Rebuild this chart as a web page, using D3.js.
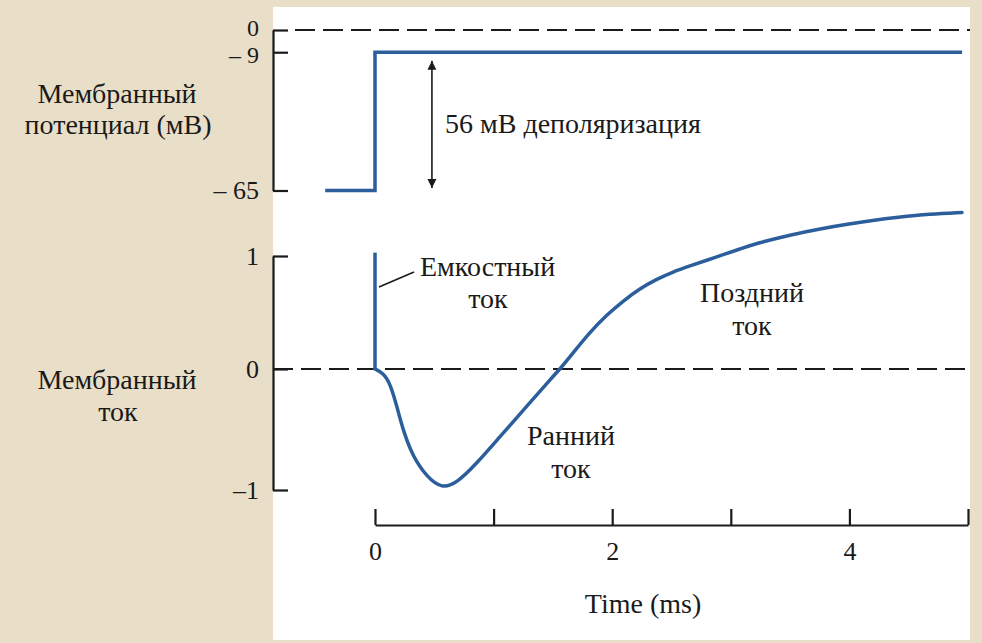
<!DOCTYPE html>
<html>
<head>
<meta charset="utf-8">
<script src="https://cdn.jsdelivr.net/npm/d3@7"></script>
<style>
  body { margin: 0; background: #e9dfc9; }
  svg text { font-family: "Liberation Serif", "Times New Roman", Tinos, "DejaVu Serif", "Noto Serif", serif !important; fill: #1a1a1a; }
</style>
</head>
<body>
<div id="chart"></div>
<script>
// Data
var vTime = [-0.42, 0, 0, 4.95];
var vValues = [-65, -65, -9, -9];
var vTicks = [-65, -9, 0];
var vTickLabels = ["\u2013 65", "\u2013 9", "0"];

var spikeTime = [0, 0];
var spikeValues = [0, 1.03];

var iTime = [0, 0.068, 0.127, 0.186, 0.236, 0.320, 0.438, 0.565, 0.691, 0.860, 1.029, 1.282, 1.492, 1.560,
  1.670, 1.813, 1.956, 2.091, 2.234, 2.378, 2.513, 2.656, 2.799, 2.934, 3.078, 3.221, 3.499, 3.777,
  3.980, 4.199, 4.401, 4.680, 4.949];
var iValues = [0, -0.033, -0.116, -0.314, -0.504, -0.727, -0.893, -0.99, -0.942, -0.777, -0.587, -0.306, -0.070, 0,
  0.142, 0.327, 0.481, 0.601, 0.712, 0.796, 0.860, 0.912, 0.963, 1.011, 1.062, 1.113, 1.187, 1.245,
  1.281, 1.316, 1.342, 1.372, 1.386];
var iTicks = [-1, 0, 1];
var iTickLabels = ["\u20131", "0", "1"];

var timeTicks = [0, 1, 2, 3, 4, 5];
var timeTickLabels = ["0", "", "2", "", "4", ""];

// Chart Params
var svgWidth = 982;
var svgHeight = 643;
var blue = "#2c5e9c";
var fontSize = 28;
var tickFont = 26;

var svg = d3.select("#chart")
  .append("svg")
  .attr("width", svgWidth)
  .attr("height", svgHeight);

svg.append("rect")
  .attr("width", svgWidth).attr("height", svgHeight)
  .attr("fill", "#e9dfc9");

svg.append("rect")
  .attr("x", 273).attr("y", 7)
  .attr("width", 697).attr("height", 633)
  .attr("fill", "#ffffff");

// Scales
var x = d3.scaleLinear().domain([0, 5]).range([375, 968]);
var yV = d3.scaleLinear().domain([-65, 0]).range([190.5, 30]);
var yI = d3.scaleLinear().domain([-1, 0, 1]).range([490, 369, 256]);

var axisX = 273;

// Left axes
var leftV = d3.axisLeft(yV)
  .tickValues(vTicks)
  .tickSizeInner(-15)
  .tickSizeOuter(0)
  .tickPadding(14)
  .tickFormat((d, i) => vTickLabels[i]);

var leftI = d3.axisLeft(yI)
  .tickValues(iTicks)
  .tickSizeInner(-15)
  .tickSizeOuter(0)
  .tickPadding(14)
  .tickFormat((d, i) => iTickLabels[i]);

var bottomAxis = d3.axisBottom(x)
  .tickValues(timeTicks)
  .tickSizeInner(-16)
  .tickSizeOuter(0)
  .tickPadding(17)
  .tickFormat((d, i) => timeTickLabels[i]);

function styleAxis(g) {
  g.attr("font-family", null);
  g.select(".domain").attr("stroke", "#1a1a1a").attr("stroke-width", 2.2);
  g.selectAll(".tick line").attr("stroke", "#1a1a1a").attr("stroke-width", 2.2);
  g.selectAll(".tick text")
    .attr("font-size", tickFont)
    .attr("fill", "#1a1a1a");
}

var gV = svg.append("g")
  .attr("transform", `translate(${axisX}, 0)`)
  .call(leftV)
  .call(styleAxis);

// the top two labels sit very close together, as in the original
gV.selectAll(".tick text")
  .attr("font-size", (d) => d === -65 ? tickFont : 24)
  .attr("y", (d) => d === 0 ? -2 : (d === -9 ? 3 : 0));

svg.append("g")
  .attr("transform", `translate(${axisX}, 0)`)
  .call(leftI)
  .call(styleAxis);

svg.append("g")
  .attr("transform", "translate(0, 525)")
  .call(bottomAxis)
  .call(styleAxis);

// Dashed zero lines
svg.append("line")
  .attr("x1", axisX + 22).attr("x2", 970)
  .attr("y1", yV(0)).attr("y2", yV(0))
  .attr("stroke", "#1a1a1a").attr("stroke-width", 2)
  .attr("stroke-dasharray", "20,8");

svg.append("line")
  .attr("x1", axisX).attr("x2", 970)
  .attr("y1", yI(0)).attr("y2", yI(0))
  .attr("stroke", "#1a1a1a").attr("stroke-width", 2)
  .attr("stroke-dasharray", "20,8");

// Voltage trace
var vLine = d3.line()
  .x((d, i) => x(vTime[i]))
  .y(d => yV(d));

svg.append("path")
  .attr("d", vLine(vValues))
  .attr("fill", "none")
  .attr("stroke", blue)
  .attr("stroke-width", 3.5);

// Capacitive spike
var spikeLine = d3.line()
  .x((d, i) => x(spikeTime[i]))
  .y(d => yI(d));

svg.append("path")
  .attr("d", spikeLine(spikeValues))
  .attr("fill", "none")
  .attr("stroke", blue)
  .attr("stroke-width", 3.5);

// Ionic current trace
var iLine = d3.line()
  .x((d, i) => x(iTime[i]))
  .y(d => yI(d))
  .curve(d3.curveBasis);

svg.append("path")
  .attr("d", iLine(iValues))
  .attr("fill", "none")
  .attr("stroke", blue)
  .attr("stroke-width", 3.5)
  .attr("stroke-linecap", "round");

// Depolarization arrow
var defs = svg.append("defs");
defs.append("marker")
  .attr("id", "arrow")
  .attr("viewBox", "0 0 10 10")
  .attr("refX", 10).attr("refY", 5)
  .attr("markerWidth", 9).attr("markerHeight", 13)
  .attr("markerUnits", "userSpaceOnUse")
  .attr("orient", "auto-start-reverse")
  .append("path")
  .attr("d", "M0,0 L10,5 L0,10 Z")
  .attr("fill", "#1a1a1a");

svg.append("line")
  .attr("x1", x(0.48)).attr("x2", x(0.48))
  .attr("y1", yV(-12.5)).attr("y2", yV(-64))
  .attr("stroke", "#1a1a1a").attr("stroke-width", 1.6)
  .attr("marker-start", "url(#arrow)")
  .attr("marker-end", "url(#arrow)");

// Text labels
function label(txt, px, py, anchor) {
  svg.append("text")
    .attr("x", px).attr("y", py)
    .attr("text-anchor", anchor || "middle")
    .attr("font-size", fontSize)
    .text(txt);
}

label("56 мВ деполяризация", 445, 133, "start");

label("Мембранный", 117, 103);
label("потенциал (мВ)", 118, 134);
label("Мембранный", 117, 389);
label("ток", 118, 421);

label("Емкостный", 420, 276, "start");
label("ток", 488, 308);
label("Ранний", 527, 445, "start");
label("ток", 571, 478);
label("Поздний", 700, 302, "start");
label("ток", 752, 335);

label("Time (ms)", 643, 613);

// Leader line for capacitive current
svg.append("line")
  .attr("x1", 379).attr("y1", 287)
  .attr("x2", 414).attr("y2", 272)
  .attr("stroke", "#1a1a1a").attr("stroke-width", 1.6);
</script>
</body>
</html>
